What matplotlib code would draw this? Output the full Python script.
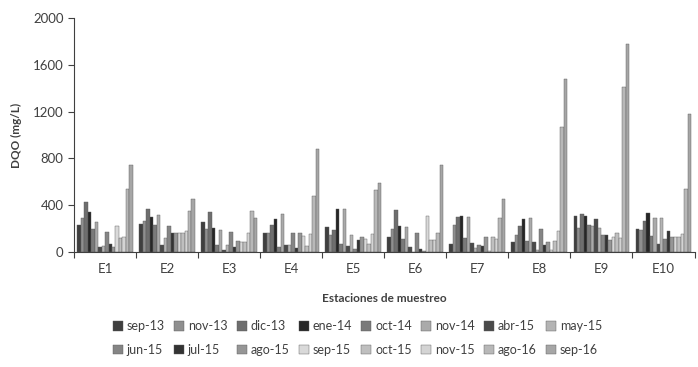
import numpy as np
import matplotlib
matplotlib.use("Agg")
import matplotlib.pyplot as plt

plt.rcParams["font.family"] = ["Lato", "DejaVu Sans"]

stations = ["E1", "E2", "E3", "E4", "E5", "E6", "E7", "E8", "E9", "E10"]
campaigns = ["sep-13", "nov-13", "dic-13", "ene-14", "oct-14", "nov-14", "abr-15", "may-15",
             "jun-15", "jul-15", "ago-15", "sep-15", "oct-15", "nov-15", "ago-16", "sep-16"]
colors = ["#3f3f3f", "#8f8f8f", "#6e6e6e", "#262626", "#7a7a7a", "#aaaaaa", "#4a4a4a", "#b4b4b4",
          "#858585", "#333333", "#969696", "#d9d9d9", "#bfbfbf", "#d4d4d4", "#b8b8b8", "#a6a6a6"]

# DQO (mg/L), one row per station, one column per campaign
dqo_e1 = [228, 295, 430, 345, 200, 260, 45, 50, 170, 68, 45, 225, 118, 125, 535, 745]
dqo_e2 = [240, 265, 372, 300, 230, 315, 65, 120, 225, 160, 165, 163, 165, 180, 352, 452]
dqo_e3 = [255, 200, 340, 206, 65, 190, 15, 62, 175, 45, 92, 88, 85, 160, 350, 293]
dqo_e4 = [160, 162, 235, 285, 48, 323, 65, 65, 160, 35, 167, 140, 55, 158, 476, 880]
dqo_e5 = [216, 148, 186, 370, 72, 370, 50, 148, 25, 102, 128, 110, 68, 157, 530, 590]
dqo_e6 = [130, 200, 360, 226, 110, 215, 45, 5, 160, 30, 10, 312, 100, 105, 167, 745]
dqo_e7 = [70, 230, 303, 312, 122, 300, 80, 38, 65, 55, 130, 10, 130, 115, 295, 450]
dqo_e8 = [85, 150, 221, 283, 92, 295, 85, 22, 200, 65, 85, 22, 95, 180, 1065, 1480]
dqo_e9 = [305, 210, 325, 305, 228, 222, 285, 208, 150, 150, 100, 130, 165, 118, 1410, 1775]
dqo_e10 = [200, 188, 266, 333, 140, 295, 72, 295, 115, 178, 130, 130, 130, 158, 535, 1180]

dqo = np.array([dqo_e1, dqo_e2, dqo_e3, dqo_e4, dqo_e5,
                dqo_e6, dqo_e7, dqo_e8, dqo_e9, dqo_e10])

fig = plt.figure(figsize=(6.98, 3.67), dpi=100)
ax = fig.add_axes([0.106, 0.313, 0.889, 0.638])

n = len(campaigns)
width = 0.9 / n
x0 = np.arange(len(stations)) + 0.05
handles = []
for i, (name, col) in enumerate(zip(campaigns, colors)):
    h = ax.bar(x0 + (i + 0.5) * width, dqo[:, i], width, color=col,
               edgecolor="#5a5a5a", linewidth=0.3, label=name)
    handles.append(h)

ax.set_xlim(0, 10)
ax.set_ylim(0, 2000)
ax.set_yticks(np.arange(0, 2001, 400))
ax.set_xticks(np.arange(0, 11), labels=[])
ax.set_xticks(np.arange(len(stations)) + 0.5, labels=stations, minor=True)
ax.tick_params(axis="x", which="minor", length=0, labelsize=9.5, pad=8, colors="#404040")
ax.tick_params(axis="x", which="major", length=4, direction="out", color="#404040")
ax.tick_params(axis="y", length=4, labelsize=9.5, colors="#404040")
for s in ["top", "right"]:
    ax.spines[s].set_visible(False)
for s in ["left", "bottom"]:
    ax.spines[s].set_color("#404040")

ax.set_ylabel("DQO (mg/L)", fontsize=8.5, fontweight="bold", color="#404040", labelpad=8)
ax.set_xlabel("Estaciones de muestreo", fontsize=8.5, fontweight="bold", color="#404040", labelpad=13)

# row-major order for an 8-column legend
order = [j * 8 + k for k in range(8) for j in range(2)]
fig.legend([handles[o] for o in order], [campaigns[o] for o in order],
           ncol=8, loc="lower center", bbox_to_anchor=(0.512, 0.0), frameon=False,
           fontsize=9, handlelength=0.8, handleheight=0.8, handletextpad=0.3,
           columnspacing=0.75, labelspacing=0.9, labelcolor="#404040")

fig.savefig("out.png", dpi=100)
